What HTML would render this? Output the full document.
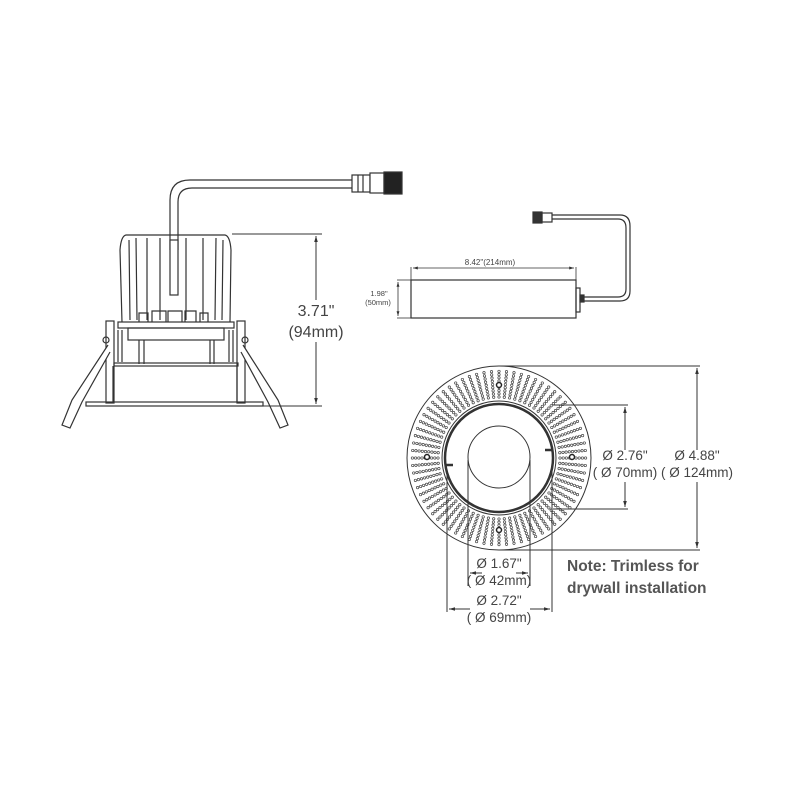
<!DOCTYPE html>
<html><head><meta charset="utf-8"><style>
html,body{margin:0;padding:0;background:#fff;width:800px;height:800px;overflow:hidden}
svg{display:block}
text{font-family:"Liberation Sans",sans-serif;fill:#444}
</style></head><body>
<svg id="s" width="800" height="800" viewBox="0 0 800 800" xmlns="http://www.w3.org/2000/svg">
<defs>
<marker id="a" viewBox="0 0 10 10" refX="10" refY="5" markerWidth="6" markerHeight="6" orient="auto-start-reverse"><path d="M0,2 L10,5 L0,8z" fill="#333"/></marker>
</defs>
<g fill="none" stroke="#333" stroke-width="1.2">
<!-- cable left fixture -->
<path d="M170,250 L170,200 Q170,180 190,180 L352,180" stroke-width="1.2"/>
<path d="M178,250 L178,202 Q178,188 192,188 L352,188"/>
<rect x="352" y="175" width="18" height="17" fill="#fff"/>
<rect x="370" y="173" width="14" height="20" fill="#fff"/>
<rect x="384" y="172" width="18" height="22" fill="#222"/>
<line x1="358" y1="175" x2="358" y2="192"/><line x1="363" y1="175" x2="363" y2="192"/>
<!-- heatsink -->
<path d="M122,322 L120,250 Q121,236 126,235 L225,235 Q230,236 231,250 L230,322"/>
<path d="M130,320 L129,240 M137,320 L136,238 M147,320 L147,238 M160,320 L160,238 M186,320 L186,238 M203,320 L203,238 M215,320 L216,238 M222,320 L223,240"/>
<path d="M139,322 V313 H148 V322 M152,322 V311 H166 V322 M168,322 V311 H182 V322 M185,322 V311 H196 V322 M200,322 V313 H208 V322"/>
<rect x="170" y="240" width="8" height="55" fill="#fff"/>
<!-- body -->
<rect x="118" y="322" width="116" height="6"/>
<rect x="128" y="328" width="96" height="12"/>
<path d="M139,340 V364 M144,340 V364 M210,340 V364 M214,340 V364"/>
<rect x="114" y="363" width="124" height="3"/>
<path d="M113,366 V402 M237,366 V402"/>
<rect x="106" y="321" width="8" height="82"/>
<rect x="237" y="321" width="8" height="82"/>
<path d="M118,330 V362 M122,330 V362 M229,330 V362 M233,330 V362"/>
<rect x="86" y="402" width="177" height="4"/>
<!-- spring clips -->
<path d="M108,345 L72,400 L62,425 L70,428 L82,402 L110,352" fill="#fff"/>
<path d="M243,345 L278,400 L288,425 L280,428 L268,402 L241,352" fill="#fff"/>
<circle cx="106" cy="340" r="3"/><circle cx="245" cy="340" r="3"/>
</g>
<!-- 3.71 dim -->
<g stroke="#333" stroke-width="1" fill="none">
<line x1="232" y1="234" x2="322" y2="234"/>
<line x1="263" y1="406" x2="322" y2="406"/>
<line x1="316" y1="236" x2="316" y2="300" marker-start="url(#a)"/>
<line x1="316" y1="342" x2="316" y2="404" marker-end="url(#a)"/>
</g>
<text x="316" y="316" font-size="16" text-anchor="middle">3.71"</text>
<text x="316" y="337" font-size="16" text-anchor="middle">(94mm)</text>
<!-- driver -->
<g stroke="#333" stroke-width="1.2" fill="none">
<rect x="411" y="280" width="165" height="38"/>
<rect x="576" y="288" width="4" height="24"/>
<rect x="580" y="295" width="4" height="7" fill="#333"/>
<path d="M584,297 L618,297 Q626,297 626,289 L626,228 Q626,219 618,219 L552,219"/>
<path d="M584,301 L620,301 Q630,301 630,291 L630,226 Q630,215 620,215 L552,215"/>
<rect x="533" y="212" width="9" height="11" fill="#333"/>
<rect x="542" y="213" width="10" height="9"/>
<line x1="411" y1="267" x2="411" y2="280" stroke-width="0.8"/>
<line x1="576" y1="267" x2="576" y2="280" stroke-width="0.8"/>
<line x1="413" y1="268" x2="574" y2="268" stroke-width="0.8" marker-start="url(#a)" marker-end="url(#a)"/>
<line x1="397" y1="280" x2="411" y2="280" stroke-width="0.8"/>
<line x1="397" y1="318" x2="411" y2="318" stroke-width="0.8"/>
<line x1="398" y1="282" x2="398" y2="316" stroke-width="0.8" marker-start="url(#a)" marker-end="url(#a)"/>
</g>
<text x="490" y="265" font-size="8" text-anchor="middle">8.42"(214mm)</text>
<text x="379" y="296" font-size="7.5" text-anchor="middle">1.98"</text>
<text x="378" y="305" font-size="7.5" text-anchor="middle">(50mm)</text>
<!-- trim -->
<g id="dots" fill="none" stroke="#444" stroke-width="0.7"></g>
<g fill="none" stroke="#333">
<circle cx="499" cy="458" r="92" stroke-width="1"/>
<circle cx="499" cy="458" r="54" stroke-width="2.5"/>
<circle cx="499" cy="458" r="57" stroke-width="1"/>
<circle cx="499" cy="457" r="31" stroke-width="1"/>
<path d="M446,465 h7 M545,450 h7" stroke-width="2.5"/>
</g>
<g fill="#fff" stroke="#222" stroke-width="1.5">
<circle cx="499" cy="385" r="2.5"/><circle cx="499" cy="530" r="2.5"/><circle cx="427" cy="457" r="2.5"/><circle cx="572" cy="457" r="2.5"/>
</g>
<!-- dims trim -->
<g stroke="#333" stroke-width="1" fill="none">
<line x1="499" y1="366" x2="700" y2="366"/>
<line x1="499" y1="550" x2="700" y2="550"/>
<line x1="697" y1="368" x2="697" y2="450" marker-start="url(#a)"/>
<line x1="697" y1="482" x2="697" y2="548" marker-end="url(#a)"/>
<line x1="553" y1="405" x2="628" y2="405"/>
<line x1="553" y1="509" x2="628" y2="509"/>
<line x1="625" y1="407" x2="625" y2="450" marker-start="url(#a)"/>
<line x1="625" y1="482" x2="625" y2="507" marker-end="url(#a)"/>
<line x1="468" y1="460" x2="468" y2="586"/>
<line x1="530" y1="460" x2="530" y2="586"/>
<line x1="447" y1="470" x2="447" y2="612"/>
<line x1="552" y1="470" x2="552" y2="612"/>
<line x1="470" y1="573" x2="482" y2="573" marker-start="url(#a)"/>
<line x1="516" y1="573" x2="528" y2="573" marker-end="url(#a)"/>
<line x1="449" y1="609" x2="470" y2="609" marker-start="url(#a)"/>
<line x1="530" y1="609" x2="550" y2="609" marker-end="url(#a)"/>
</g>
<g font-size="13.5" text-anchor="middle">
<text x="625" y="460">Ø 2.76"</text>
<text x="625" y="477">( Ø 70mm)</text>
<text x="697" y="460">Ø 4.88"</text>
<text x="697" y="477">( Ø 124mm)</text>
<text x="499" y="568">Ø 1.67"</text>
<text x="499" y="585">( Ø 42mm)</text>
<text x="499" y="605">Ø 2.72"</text>
<text x="499" y="622">( Ø 69mm)</text>
</g>
<text x="567" y="571" font-size="15.5" font-weight="bold" style="fill:#555">Note: Trimless for</text>
<text x="567" y="593" font-size="15.5" font-weight="bold" style="fill:#555">drywall installation</text>
</svg>
<script>
var g=document.getElementById('dots'),h='',cx=499,cy=458,n=72;
for(var i=0;i<n;i++){var t=i/n*2*Math.PI;for(var r=61;r<=88;r+=3.2){h+='<circle cx="'+(cx+r*Math.cos(t)).toFixed(1)+'" cy="'+(cy+r*Math.sin(t)).toFixed(1)+'" r="1.2"/>';}}
g.innerHTML=h;
</script>
</body></html>
